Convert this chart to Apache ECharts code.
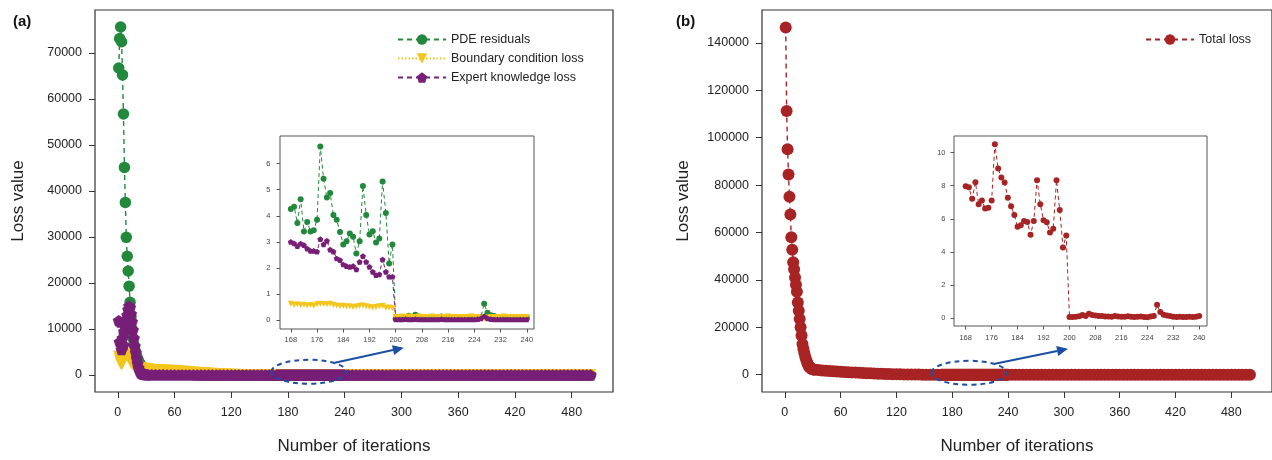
<!DOCTYPE html>
<html>
<head>
<meta charset="utf-8">
<script src="https://cdn.jsdelivr.net/npm/echarts@6/dist/echarts.min.js"></script>
<style>
html,body{margin:0;padding:0;background:#fff}
#main{width:1272px;height:460px}
</style>
</head>
<body>
<div id="main"></div>
<script>
function range(a, b, step) {
	var out = [];
	for (var i = a; i <= b; i += step) out.push(i);
	return out;
}
function pairs(iters, vals) {
	return iters.map(function (it, i) { return [it, vals[i]]; });
}

/* iteration positions of the values below */
var earlyIters = range(1, 31, 1);
var midIters = range(32, 164, 4);
var zoomIters = range(168, 240, 1);
var lateIters = range(244, 500, 4);

/* tick labels */
var mainXTicks = [0, 60, 120, 180, 240, 300, 360, 420, 480];
var leftYTicks = [0, 10000, 20000, 30000, 40000, 50000, 60000, 70000];
var rightYTicks = [0, 20000, 40000, 60000, 80000, 100000, 120000, 140000];
var zoomXTicks = [168, 176, 184, 192, 200, 208, 216, 224, 232, 240];
var leftZoomYTicks = [0, 1, 2, 3, 4, 5, 6];
var rightZoomYTicks = [0, 2, 4, 6, 8, 10];

/* (a) PDE residuals */
var pdeEarly = [66700, 73100, 75600, 72400, 65200, 56700, 45100, 37500, 29900, 25800, 22600, 19300, 15800, 12600, 10000, 8000, 6600, 5600, 4800, 4100, 3500, 3000, 2600, 2250, 1950, 1700, 1500, 1350, 1220, 1110, 1020];
var pdeMid = [950, 780, 640, 520, 430, 350, 290, 240, 200, 165, 138, 115, 96, 80, 67, 56, 47, 40, 34, 29, 24.5, 21, 18, 15.5, 13.5, 11.8, 10.3, 9.1, 8.1, 7.2, 6.4, 5.7, 5.1, 4.7];
var pdeZoom = [4.26, 4.35, 3.72, 4.63, 3.40, 3.76, 3.40, 3.44, 3.85, 6.66, 5.42, 4.70, 4.87, 4.03, 3.85, 3.38, 2.90, 3.02, 3.32, 3.19, 2.55, 3.02, 5.14, 4.03, 3.28, 3.41, 2.97, 3.13, 5.31, 4.11, 2.17, 2.90,
	0.05, 0.06, 0.07, 0.10, 0.16, 0.12, 0.20, 0.13, 0.12, 0.10,
	0.09, 0.08, 0.07, 0.08, 0.13, 0.08, 0.07, 0.08, 0.11, 0.08,
	0.07, 0.08, 0.10, 0.07, 0.06, 0.10, 0.12, 0.62, 0.28, 0.18,
	0.15, 0.10, 0.08, 0.07, 0.08, 0.07, 0.06, 0.09, 0.07, 0.08, 0.10];
var pdeLate = [0.08, 0.07, 0.09, 0.07, 0.08, 0.07, 0.06, 0.08, 0.07, 0.07,
	0.06, 0.07, 0.08, 0.06, 0.07, 0.06, 0.06, 0.07, 0.06, 0.05,
	0.06, 0.07, 0.06, 0.05, 0.06, 0.05, 0.06, 0.05, 0.05, 0.06,
	0.05, 0.05, 0.04, 0.05, 0.05, 0.04, 0.05, 0.04, 0.05, 0.04,
	0.04, 0.05, 0.04, 0.04, 0.04, 0.05, 0.04, 0.04, 0.03, 0.04,
	0.04, 0.03, 0.04, 0.03, 0.04, 0.03, 0.03, 0.04, 0.03, 0.03,
	0.03, 0.04, 0.03, 0.03, 0.03];

/* (a) Boundary condition loss */
var bcEarly = [4000, 3200, 2500, 2300, 2600, 3200, 3800, 4300, 4600, 4500, 4100, 3600, 3100, 2700, 2400, 2200, 2000, 1900, 1800, 1700, 1650, 1600, 1550, 1500, 1460, 1420, 1390, 1360, 1330, 1300, 1280];
var bcMid = [1250, 1200, 1150, 1100, 1050, 1000, 950, 900, 850, 790, 730, 670, 610, 550, 490, 430, 370, 320, 270, 225, 185, 150, 120, 95, 72, 54, 40, 28, 19, 12, 7, 3.5, 1.6, 0.8];
var bcZoom = [0.62, 0.58, 0.60, 0.57, 0.59, 0.56, 0.58, 0.55, 0.60, 0.62, 0.61, 0.60, 0.62, 0.58, 0.56, 0.54, 0.55, 0.52, 0.53, 0.50, 0.52, 0.55, 0.56, 0.53, 0.50, 0.48, 0.50, 0.53, 0.54, 0.47, 0.48, 0.45,
	0.12, 0.12, 0.13, 0.12, 0.13, 0.12, 0.12, 0.13, 0.12, 0.12,
	0.12, 0.13, 0.12, 0.12, 0.12, 0.12, 0.13, 0.12, 0.12, 0.12,
	0.12, 0.12, 0.12, 0.13, 0.12, 0.12, 0.10, 0.06, 0.10, 0.12,
	0.12, 0.12, 0.12, 0.13, 0.12, 0.12, 0.12, 0.12, 0.12, 0.12, 0.12];
var bcLate = [0.12, 0.12, 0.11, 0.12, 0.11, 0.11, 0.12, 0.11, 0.11, 0.10,
	0.11, 0.10, 0.11, 0.10, 0.10, 0.11, 0.10, 0.10, 0.09, 0.10,
	0.10, 0.09, 0.10, 0.09, 0.09, 0.10, 0.09, 0.09, 0.09, 0.08,
	0.09, 0.09, 0.08, 0.09, 0.08, 0.08, 0.09, 0.08, 0.08, 0.08,
	0.08, 0.07, 0.08, 0.08, 0.07, 0.08, 0.07, 0.07, 0.08, 0.07,
	0.07, 0.07, 0.07, 0.06, 0.07, 0.07, 0.06, 0.07, 0.06, 0.06,
	0.06, 0.07, 0.06, 0.06, 0.06];

/* (a) Expert knowledge loss */
var ekEarly = [11800, 7200, 11500, 5500, 8000, 6500, 9500, 11000, 12000, 13000, 14200, 15000, 14700, 13300, 11600, 9800, 8000, 6300, 4900, 3600, 2500, 1600, 1000, 600, 380, 250, 180, 130, 100, 80, 70];
var ekMid = [60, 50, 42, 36, 31, 27, 24, 21, 19, 17, 15, 13.5, 12, 11, 10, 9.2, 8.5, 7.9, 7.3, 6.8, 6.3, 5.9, 5.5, 5.1, 4.8, 4.5, 4.2, 4.0, 3.8, 3.6, 3.4, 3.3, 3.2, 3.1];
var ekZoom = [3.00, 2.94, 2.83, 2.93, 2.87, 2.74, 2.65, 2.65, 2.62, 3.10, 2.90, 3.04, 2.70, 2.62, 2.36, 2.30, 2.13, 2.07, 2.04, 2.07, 1.94, 2.23, 2.45, 2.23, 2.04, 1.85, 1.72, 1.75, 2.32, 1.85, 1.66, 1.66,
	0.02, 0.02, 0.02, 0.03, 0.02, 0.02, 0.03, 0.02, 0.02, 0.02,
	0.02, 0.02, 0.02, 0.02, 0.03, 0.02, 0.02, 0.02, 0.02, 0.02,
	0.02, 0.02, 0.02, 0.02, 0.02, 0.03, 0.06, 0.14, 0.06, 0.03,
	0.02, 0.02, 0.02, 0.02, 0.02, 0.02, 0.02, 0.02, 0.02, 0.02, 0.02];
var ekLate = [0.02, 0.02, 0.03, 0.02, 0.02, 0.02, 0.02, 0.03, 0.02, 0.02,
	0.02, 0.02, 0.02, 0.02, 0.03, 0.02, 0.02, 0.02, 0.02, 0.02,
	0.02, 0.02, 0.01, 0.02, 0.02, 0.02, 0.02, 0.01, 0.02, 0.02,
	0.01, 0.02, 0.02, 0.01, 0.02, 0.01, 0.02, 0.01, 0.01, 0.02,
	0.01, 0.01, 0.02, 0.01, 0.01, 0.01, 0.02, 0.01, 0.01, 0.01,
	0.01, 0.01, 0.01, 0.01, 0.01, 0.01, 0.01, 0.01, 0.01, 0.01,
	0.01, 0.01, 0.01, 0.01, 0.01];

/* (b) Total loss */
var totalEarly = [146500, 111300, 95100, 84500, 75100, 67600, 58000, 52700, 47500, 44500, 41000, 38000, 35000, 30500, 27000, 23500, 20000, 16500, 13000, 11000, 9200, 7600, 6300, 5100, 4200, 3500, 3000, 2700, 2450, 2300, 2200];
var totalMid = [2100, 1950, 1800, 1680, 1560, 1450, 1350, 1250, 1150, 1060, 980, 900, 820, 740, 660, 590, 520, 450, 390, 330, 280, 230, 190, 150, 120, 90, 70, 50, 36, 25, 17, 12, 9.5, 8.5];
var totalZoom = [7.97, 7.91, 7.21, 8.21, 6.89, 7.11, 6.63, 6.67, 7.11, 10.50, 9.04, 8.49, 8.19, 7.27, 6.77, 6.24, 5.52, 5.62, 5.88, 5.82, 5.04, 5.88, 8.33, 6.89, 5.92, 5.80, 5.18, 5.40, 8.33, 6.53, 4.28, 5.00,
	0.08, 0.09, 0.10, 0.13, 0.20, 0.15, 0.28, 0.20, 0.18, 0.15,
	0.14, 0.12, 0.11, 0.10, 0.15, 0.12, 0.10, 0.10, 0.13, 0.10,
	0.09, 0.10, 0.12, 0.08, 0.07, 0.12, 0.15, 0.82, 0.38, 0.22,
	0.18, 0.14, 0.10, 0.09, 0.10, 0.09, 0.08, 0.10, 0.09, 0.10, 0.14];
var totalLate = [0.12, 0.11, 0.13, 0.11, 0.12, 0.11, 0.10, 0.12, 0.11, 0.10,
	0.10, 0.11, 0.12, 0.10, 0.11, 0.10, 0.09, 0.11, 0.10, 0.09,
	0.10, 0.11, 0.09, 0.08, 0.10, 0.09, 0.09, 0.08, 0.09, 0.09,
	0.08, 0.09, 0.07, 0.08, 0.08, 0.07, 0.08, 0.07, 0.08, 0.07,
	0.07, 0.08, 0.07, 0.07, 0.06, 0.07, 0.07, 0.06, 0.06, 0.07,
	0.06, 0.06, 0.06, 0.06, 0.06, 0.05, 0.06, 0.06, 0.05, 0.05,
	0.05, 0.06, 0.05, 0.05, 0.05];

function full(early, mid, zoom, late) {
	return pairs(earlyIters, early).concat(pairs(midIters, mid), pairs(zoomIters, zoom), pairs(lateIters, late));
}

var GREEN = '#22883c', GOLD = '#f4c51a', PURPLE = '#771f77', RED = '#a82323', BLUE = '#1c4fa3';
var PENTAGON = 'path://M0,-10L9.51,-3.09L5.88,8.09L-5.88,8.09L-9.51,-3.09Z';
var FONT = 'Liberation Sans, Arial, Helvetica, sans-serif';
function plain(v) { return String(v); }

function mainX(gridIndex, min, max) {
	return {
		type: 'value', gridIndex: gridIndex, min: min, max: max,
		name: 'Number of iterations', nameLocation: 'middle', nameGap: 46,
		nameTextStyle: {fontSize: 17, color: '#222'},
		axisLine: {show: false, onZero: false},
		axisTick: {show: true, length: 6, customValues: mainXTicks, lineStyle: {color: '#333'}},
		axisLabel: {customValues: mainXTicks, formatter: plain, margin: 14, fontSize: 12.5, color: '#222'},
		splitLine: {show: false}
	};
}
function mainY(gridIndex, min, max, ticks, gap) {
	return {
		type: 'value', gridIndex: gridIndex, min: min, max: max,
		name: 'Loss value', nameLocation: 'middle', nameGap: gap, nameRotate: 90,
		nameTextStyle: {fontSize: 17, color: '#222'},
		axisLine: {show: false, onZero: false},
		axisTick: {show: true, length: 6, customValues: ticks, lineStyle: {color: '#333'}},
		axisLabel: {customValues: ticks, formatter: plain, margin: 13, fontSize: 12.5, color: '#222'},
		splitLine: {show: false}
	};
}
function zoomAxis(gridIndex, min, max, ticks, margin) {
	return {
		type: 'value', gridIndex: gridIndex, min: min, max: max,
		axisLine: {show: false, onZero: false},
		axisTick: {show: true, length: 3.5, customValues: ticks, lineStyle: {color: '#555'}},
		axisLabel: {customValues: ticks, formatter: plain, margin: margin, fontSize: 7.5, color: '#444'},
		splitLine: {show: false}
	};
}
function lineSeries(name, x, y, data, color, symbol, size, dash, width, rotate) {
	return {
		name: name, type: 'line', xAxisIndex: x, yAxisIndex: y, data: data,
		symbol: symbol, symbolSize: size, symbolRotate: rotate || 0, symbolKeepAspect: true,
		showAllSymbol: true, z: 2,
		itemStyle: {color: color, borderWidth: 0},
		lineStyle: {color: color, width: width, type: dash},
		emphasis: {disabled: true}
	};
}

var chart = echarts.init(document.getElementById('main'), null, {renderer: 'canvas'});
var option = {
	animation: false,
	textStyle: {fontFamily: FONT},
	title: [
		{text: '(a)', left: 8, top: 9, textStyle: {fontSize: 15, fontWeight: 'bold', color: '#111', fontFamily: FONT}},
		{text: '(b)', left: 671, top: 9, textStyle: {fontSize: 15, fontWeight: 'bold', color: '#111', fontFamily: FONT}}
	],
	legend: [
		{
			data: ['PDE residuals', 'Boundary condition loss', 'Expert knowledge loss'],
			orient: 'vertical', left: 392, top: 28, itemWidth: 48, itemHeight: 13, itemGap: 6,
			textStyle: {fontSize: 12.5, color: '#222', fontFamily: FONT}
		},
		{
			data: ['Total loss'], left: 1140, top: 28, itemWidth: 48, itemHeight: 13,
			textStyle: {fontSize: 12.5, color: '#222', fontFamily: FONT}
		}
	],
	grid: [
		{left: 95, top: 10, width: 518, height: 386.5, show: true, borderColor: '#333', borderWidth: 1.2},
		{left: 280, top: 136, width: 254, height: 193, show: true, borderColor: '#555', borderWidth: 1, backgroundColor: '#fff'},
		{left: 762, top: 10, width: 519, height: 386.5, show: true, borderColor: '#333', borderWidth: 1.2},
		{left: 954, top: 136, width: 253, height: 190, show: true, borderColor: '#555', borderWidth: 1, backgroundColor: '#fff'}
	],
	xAxis: [
		mainX(0, -24.1, 523.7),
		zoomAxis(1, 164.7, 242.2, zoomXTicks, 7),
		mainX(2, -24.5, 523.7),
		zoomAxis(3, 164.4, 242.4, zoomXTicks, 7.5)
	],
	yAxis: [
		mainY(0, -3700, 79300, leftYTicks, 68),
		zoomAxis(1, -0.345, 7.06, leftZoomYTicks, 9.5),
		mainY(2, -7300, 153900, rightYTicks, 70),
		zoomAxis(3, -0.46, 11.0, rightZoomYTicks, 8.5)
	],
	series: [
		lineSeries('PDE residuals', 0, 0, full(pdeEarly, pdeMid, pdeZoom, pdeLate), GREEN, 'circle', 11.5, [5, 4], 1.4),
		lineSeries('Boundary condition loss', 0, 0, full(bcEarly, bcMid, bcZoom, bcLate), GOLD, 'triangle', 11.5, [1.5, 2], 1.4, 180),
		lineSeries('Expert knowledge loss', 0, 0, full(ekEarly, ekMid, ekZoom, ekLate), PURPLE, PENTAGON, 12, [5, 4], 1.4),
		lineSeries('PDE residuals', 1, 1, pairs(zoomIters, pdeZoom), GREEN, 'circle', 6, [4, 3], 1),
		lineSeries('Boundary condition loss', 1, 1, pairs(zoomIters, bcZoom), GOLD, 'triangle', 6, [1.2, 1.5], 1, 180),
		lineSeries('Expert knowledge loss', 1, 1, pairs(zoomIters, ekZoom), PURPLE, PENTAGON, 6, [4, 3], 1),
		lineSeries('Total loss', 2, 2, full(totalEarly, totalMid, totalZoom, totalLate), RED, 'circle', 12, [5, 4], 1.4),
		lineSeries('Total loss', 3, 3, pairs(zoomIters, totalZoom), RED, 'circle', 6, [4, 3], 1)
	]
};
chart.setOption(option);

/* dashed ellipse round the zoomed iterations and an arrow to the inset */
function annotation(gridIndex, centre, toDx, toDy) {
	var c = chart.convertToPixel({gridIndex: gridIndex}, centre);
	var sx = c[0] + 26, sy = c[1] - 9;
	var ex = c[0] + toDx, ey = c[1] + toDy;
	var a = Math.atan2(ey - sy, ex - sx);
	var L = 11, w = 5;
	var bx = ex - L * Math.cos(a), by = ey - L * Math.sin(a);
	var nx = -Math.sin(a), ny = Math.cos(a);
	return [
		{type: 'ellipse', z: 100, shape: {cx: c[0], cy: c[1], rx: 37.5, ry: 12},
			style: {fill: 'none', stroke: BLUE, lineWidth: 2, lineDash: [5, 4]}},
		{type: 'line', z: 100, shape: {x1: sx, y1: sy, x2: bx, y2: by},
			style: {stroke: BLUE, lineWidth: 2}},
		{type: 'polygon', z: 100, shape: {points: [[ex, ey], [bx + w * nx, by + w * ny], [bx - w * nx, by - w * ny]]},
			style: {fill: BLUE}}
	];
}
chart.setOption({
	graphic: annotation(0, [202, 700], 95, -24).concat(annotation(2, [198, 800], 99, -24))
});
</script>
</body>
</html>
